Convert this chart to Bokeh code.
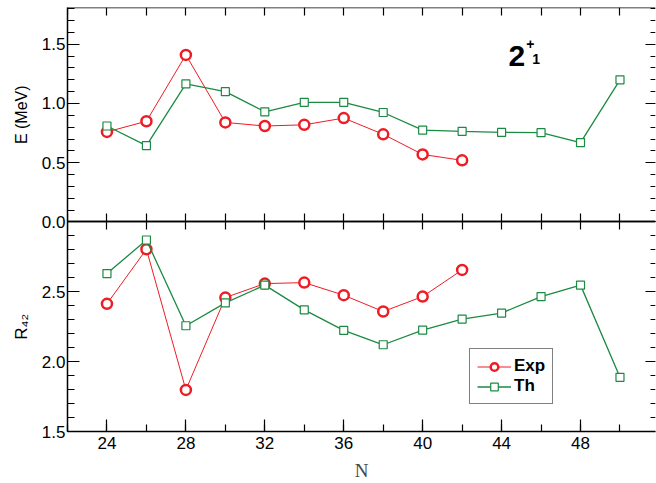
import math
import numpy as np
from bokeh.plotting import figure
from bokeh.models import (SingleIntervalTicker, FixedTicker, LinearAxis, Label,
                          Legend, LegendItem, Range1d, PrintfTickFormatter)
from bokeh.embed import file_html
from bokeh.resources import INLINE

# ---- data ----
N_exp = [24, 26, 28, 30, 32, 34, 36, 38, 40, 42]
E_exp = [0.76, 0.85, 1.41, 0.84, 0.81, 0.82, 0.877, 0.74, 0.57, 0.52]
R_exp = [2.414, 2.805, 1.798, 2.459, 2.559, 2.566, 2.476, 2.359, 2.466, 2.657]

N_th = [24, 26, 28, 30, 32, 34, 36, 38, 40, 42, 44, 46, 48, 50]
E_th = [0.81, 0.645, 1.165, 1.10, 0.93, 1.01, 1.01, 0.924, 0.776, 0.765,
        0.756, 0.754, 0.67, 1.20]
R_th = [2.631, 2.871, 2.257, 2.421, 2.548, 2.371, 2.224, 2.121, 2.226, 2.305,
        2.348, 2.466, 2.548, 1.888]

E_tick_labels = ["0.0", "0.5", "1.0", "1.5"]
E_tick_values = [0.0, 0.5, 1.0, 1.5]
R_tick_labels = ["1.5", "2.0", "2.5"]
R_tick_values = [1.5, 2.0, 2.5]
series_labels = ["Exp", "Th"]
panel_text = ["2", "+", "1"]
axis_titles = ["E (MeV)", "R\u2084\u2082", "N"]

FONT = "Liberation Sans"
RED = "#ee1c24"
GREEN = "#1b8a43"

X0, X1 = 22, 51.8          # N axis
E0, E1 = 0.0, 1.81         # top panel (energy)
R0, R1 = 1.5, 3.0          # bottom panel (R42)
TOP_PX, BOT_PX = 215, 210  # panel heights in pixels
RATIO = (BOT_PX / (R1 - R0)) / (TOP_PX / (E1 - E0))
E_lo = E0 - (R1 - R0) * RATIO
R_hi = R1 + (E1 - E0) / RATIO


def r_to_e(r):
    """position of an R42 value on the shared (energy) scale"""
    return E0 - (R1 - r) * RATIO


p = figure(width=656, height=483, x_range=Range1d(X0, X1),
           y_range=Range1d(E_lo, E1), output_backend="svg",
           toolbar_location=None, min_border_left=67, min_border_right=1,
           min_border_top=7, min_border_bottom=51,
           x_axis_location=None, y_axis_location=None)
p.extra_y_ranges = {"r": Range1d(R0, R_hi)}
p.grid.visible = False
p.outline_line_color = None
p.background_fill_color = "white"
p.border_fill_color = "white"


def style(ax, major_in, minor_in, labels=True, line=True):
    ax.major_tick_in = major_in
    ax.major_tick_out = 0
    ax.minor_tick_in = minor_in
    ax.minor_tick_out = 0
    ax.axis_line_color = "black" if line else None
    ax.axis_line_width = 1.5
    ax.major_tick_line_color = "black"
    ax.minor_tick_line_color = "black" if minor_in > 0 else None
    ax.major_tick_line_width = 1.2
    ax.minor_tick_line_width = 1.2
    if labels:
        ax.major_label_text_font = FONT
        ax.major_label_text_font_size = "17px"
        ax.major_label_text_color = "black"
    else:
        ax.major_label_text_color = None
        ax.major_label_standoff = 0
    return ax


# ---- left axis: both panels on the shared scale ----
r_major = [r_to_e(v) for v in R_tick_values]
e_minor = [round(v, 2) for v in np.arange(E0, E1 + 1e-9, 0.1)]
r_minor = [r_to_e(round(v, 2)) for v in np.arange(R0, R1 + 1e-9, 0.1)]
ax_L = LinearAxis(ticker=FixedTicker(ticks=E_tick_values + r_major,
                                     minor_ticks=e_minor + r_minor),
                  formatter=PrintfTickFormatter(format="%.1f"))
style(ax_L, 12, 7)
ax_L.major_label_standoff = 2
ax_L.major_label_overrides = {pos: lab for pos, lab in zip(r_major, R_tick_labels)}
p.add_layout(ax_L, "left")

# ---- right axes (ticks only) ----
for rng, bnds in ((None, (E0, E1)), ("r", (R0, R1))):
    kw = {"y_range_name": rng} if rng else {}
    a = LinearAxis(ticker=SingleIntervalTicker(interval=0.5, num_minor_ticks=5),
                   bounds=bnds, fixed_location=X1, **kw)
    style(a, 10, 5, labels=False, line=False)
    p.add_layout(a, "right")

# ---- bottom x axis ----
ax_N = LinearAxis(ticker=SingleIntervalTicker(interval=4, num_minor_ticks=2),
                  y_range_name="r")
style(ax_N, 12, 7)
ax_N.major_label_standoff = 5
ax_N.axis_label = axis_titles[2]
ax_N.axis_label_text_font = "Liberation Serif"
ax_N.axis_label_text_font_size = "19px"
ax_N.axis_label_text_font_style = "normal"
ax_N.axis_label_standoff = 8
p.add_layout(ax_N, "below")

# frame top, and both sides of the panel boundary (ticks only)
for side, loc in (("above", E1), ("below", E0), ("above", E0)):
    a = LinearAxis(ticker=SingleIntervalTicker(interval=2, num_minor_ticks=0),
                   fixed_location=loc)
    style(a, 8, 0, labels=False)
    p.add_layout(a, side)

# ---- top panel data ----
p.line(N_exp, E_exp, line_color=RED, line_width=1)
p.scatter(N_exp, E_exp, marker="circle", size=10, line_color=RED,
          line_width=2.5, fill_color="white")
p.line(N_th, E_th, line_color=GREEN, line_width=1.3)
p.scatter(N_th, E_th, marker="square", size=8, line_color=GREEN,
          line_width=1.2, fill_color="white")

# ---- bottom panel data ----
l_exp = p.line(N_exp, R_exp, line_color=RED, line_width=1, y_range_name="r")
s_exp = p.scatter(N_exp, R_exp, marker="circle", size=10, line_color=RED,
                  line_width=2.5, fill_color="white", y_range_name="r")
l_th = p.line(N_th, R_th, line_color=GREEN, line_width=1.3, y_range_name="r")
s_th = p.scatter(N_th, R_th, marker="square", size=8, line_color=GREEN,
                 line_width=1.2, fill_color="white", y_range_name="r")

# ---- y-axis titles (one per panel), placed in the left side panel ----
px_per_n = 588 / (X1 - X0)
title_x = X0 - 46 / px_per_n
p.add_layout(Label(x=title_x, y=(E0 + E1) / 2, text=axis_titles[0],
                   angle=math.pi / 2, text_align="center",
                   text_baseline="middle", text_font=FONT,
                   text_font_size="16px", text_color="black"), "left")
p.add_layout(Label(x=title_x, y=(R0 + R1) / 2, y_range_name="r",
                   text=axis_titles[1], angle=math.pi / 2, text_align="center",
                   text_baseline="middle", text_font=FONT,
                   text_font_size="17px", text_color="black"), "left")

# ---- panel tag 2+_1 ----
for txt, x, y, fs in ((panel_text[0], 44.35, 1.40, "30px"),
                      (panel_text[1], 45.25, 1.50, "14px"),
                      (panel_text[2], 45.55, 1.373, "14px")):
    p.add_layout(Label(x=x, y=y, text=txt, text_font=FONT, text_font_size=fs,
                       text_font_style="bold", text_baseline="alphabetic",
                       text_color="black"))

legend = Legend(items=[LegendItem(label=series_labels[0], renderers=[l_exp, s_exp]),
                       LegendItem(label=series_labels[1], renderers=[l_th, s_th])],
                location=(402, 27), margin=0, padding=7, spacing=0,
                glyph_width=34, glyph_height=19, label_height=19,
                label_standoff=3, label_text_font=FONT,
                label_text_font_size="17px", label_text_font_style="bold",
                label_text_color="black", border_line_color="black",
                border_line_width=1, background_fill_color="white",
                background_fill_alpha=1)
p.add_layout(legend)

open("out.html", "w").write(file_html(p, INLINE))
